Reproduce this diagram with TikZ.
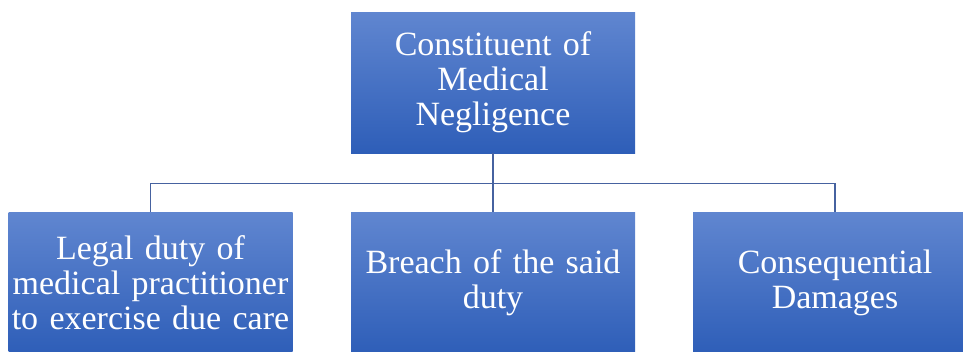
\documentclass[tikz,border=0pt]{standalone}
\usepackage{fontspec}
\setmainfont{Liberation Serif}
\definecolor{boxtop}{RGB}{96,134,208}
\definecolor{boxbottom}{RGB}{46,94,184}
\definecolor{linkblue}{RGB}{70,98,160}
\tikzset{
  part/.style={rectangle, minimum width=284pt, minimum height=141pt,
    top color=boxtop, bottom color=boxbottom, draw=none,
    text=white, align=center, text width=284pt, inner sep=0pt,
    font=\fontsize{34}{35}\selectfont},
  link/.style={draw=linkblue, line width=1.2pt}
}

\begin{document}
\begin{tikzpicture}[x=1pt, y=-1pt]
  \useasboundingbox (0,0) rectangle (963,351);
  % root
  \node[part] (constituent) at (493,82.5) {Constituent of\\Medical\\Negligence};
  % the three parts
  \node[part] (duty) at (150.5,283) {Legal duty of\\medical practitioner\\to exercise due care};
  \node[part] (breach) at (493,283) {Breach of the said\\duty};
  \node[part] (damages) at (835,283) {Consequential\\Damages};
  % tree lines
  \draw[link] (constituent.south) -- ++(0,30) coordinate (fork);
  \draw[link] (fork) -| (duty.north);
  \draw[link] (fork) -- (breach.north);
  \draw[link] (fork) -| (damages.north);
\end{tikzpicture}
\end{document}
